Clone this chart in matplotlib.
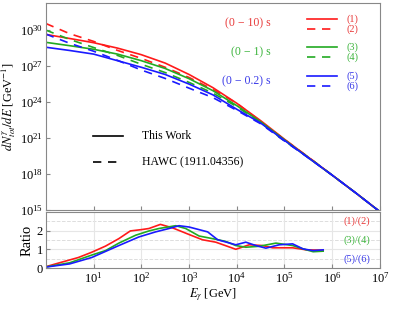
import numpy as np
import matplotlib
matplotlib.use("Agg")
import matplotlib.pyplot as plt

plt.rcParams['font.family'] = ['Liberation Serif', 'DejaVu Serif']
plt.rcParams['mathtext.fontset'] = 'stix'

# spectra: log10(E/GeV) grid and log10(dN/dE) values
logE = [0, 0.5, 1, 1.5, 2, 2.5, 3, 3.5, 4, 4.5, 5, 5.5, 6, 6.5, 7]
spec1 = [29.64, 29.3, 28.95, 28.5, 27.95, 27.25, 26.3, 25.2, 23.9, 22.45, 20.9, 19.4, 17.9, 16.4, 14.85]
spec2 = [30.55, 29.7, 29.06, 28.31, 27.64, 26.9, 26.05, 25.05, 23.9, 22.37, 20.87, 19.41, 17.9, 16.4, 14.85]
spec3 = [28.98, 28.7, 28.4, 28.0, 27.45, 26.8, 25.95, 24.95, 23.7, 22.35, 20.85, 19.35, 17.9, 16.4, 14.85]
spec4 = [30.0, 29.22, 28.55, 27.89, 27.15, 26.46, 25.64, 24.75, 23.62, 22.28, 20.75, 19.4, 17.9, 16.4, 14.85]
spec5 = [28.57, 28.3, 28.0, 27.45, 26.9, 26.3, 25.5, 24.6, 23.4, 22.25, 20.8, 19.35, 17.9, 16.4, 14.85]
spec6 = [29.67, 28.9, 28.24, 27.48, 26.67, 25.97, 25.16, 24.37, 23.31, 22.19, 20.75, 19.35, 17.9, 16.4, 14.85]

# ratios
rE12 = [0, 0.26, 0.68, 0.96, 1.25, 1.53, 1.77, 2.0, 2.16, 2.4, 2.65, 3.0, 3.28, 3.56, 3.98, 4.26, 4.54, 4.75, 5.17, 5.46, 5.81]
r12 = [0.07, 0.26, 0.56, 0.84, 1.17, 1.57, 1.98, 2.05, 2.11, 2.33, 2.15, 1.79, 1.51, 1.38, 1.0, 1.24, 1.2, 1.08, 1.08, 0.97, 0.95]
rE34 = [0, 0.5, 0.96, 1.25, 1.53, 1.88, 2.16, 2.37, 2.58, 2.72, 2.93, 3.21, 3.49, 3.77, 3.98, 4.19, 4.47, 4.82, 5.17, 5.39, 5.6, 5.81]
r34 = [0.06, 0.28, 0.69, 0.93, 1.33, 1.75, 1.98, 2.11, 2.2, 2.26, 2.11, 1.71, 1.57, 1.42, 1.2, 1.11, 1.16, 1.33, 1.2, 1.02, 0.87, 0.9]
rE56 = [0, 0.5, 0.96, 1.53, 1.95, 2.3, 2.58, 2.79, 3.0, 3.39, 3.6, 3.98, 4.19, 4.4, 4.61, 4.89, 5.17, 5.39, 5.6, 5.81]
r56 = [0.05, 0.22, 0.56, 1.2, 1.66, 1.93, 2.11, 2.26, 2.19, 1.93, 1.51, 1.24, 1.38, 1.2, 1.06, 1.24, 1.29, 1.02, 0.93, 0.97]

RED, GREEN, BLUE = '#ff1a1a', '#22aa22', '#1a1aff'
TRED, TGREEN, TBLUE = '#e83a3a', '#3cb43c', '#3a3ae8'
FRAME = '#888888'

fig = plt.figure(figsize=(4.13, 3.12), dpi=100)
ax = fig.add_axes([0.111, 0.327, 0.809, 0.663])
axr = fig.add_axes([0.111, 0.141, 0.809, 0.180])

E = 10 ** np.array(logE, dtype=float)
for s, c, ls in [(spec1, RED, '-'), (spec2, RED, '--'), (spec3, GREEN, '-'),
                 (spec4, GREEN, '--'), (spec5, BLUE, '-'), (spec6, BLUE, '--')]:
    ax.plot(E, 10 ** np.array(s, dtype=float), color=c, ls=ls, lw=1.2,
            dashes=(5, 4) if ls == '--' else (None, None))

ax.set_xscale('log')
ax.set_yscale('log')
ax.set_xlim(1, 1e7)
ax.set_ylim(1e15, 10 ** 32.25)
ax.set_yticks([1e15, 1e18, 1e21, 1e24, 1e27, 1e30])
ax.set_xticks([10 ** k for k in range(1, 8)])
ax.set_xticklabels([])
ax.minorticks_off()
ax.set_ylabel(r'$dN^{\gamma}_{tot}/dE$ [GeV$^{-1}$]', fontsize=9, labelpad=1)

# legend block, top right
for ytxt, ysol, ydash, lbl, c, tc, n in [(0.903, 0.923, 0.874, '(0 − 10) s', RED, TRED, (1, 2)),
                                         (0.763, 0.787, 0.739, '(0 − 1) s', GREEN, TGREEN, (3, 4)),
                                         (0.623, 0.647, 0.599, '(0 − 0.2) s', BLUE, TBLUE, (5, 6))]:
    ax.text(0.672, ytxt, lbl, transform=ax.transAxes, color=tc,
            fontsize=8.5, ha='right', va='center')
    ax.plot([0.782, 0.872], [ysol, ysol], transform=ax.transAxes, color=c, lw=1.2)
    ax.plot([0.782, 0.872], [ydash, ydash], transform=ax.transAxes, color=c, lw=1.2,
            ls='--', dashes=(5, 4))
    ax.text(0.9, ysol, '(%d)' % n[0], transform=ax.transAxes, color=tc, fontsize=7.5, va='center')
    ax.text(0.9, ydash, '(%d)' % n[1], transform=ax.transAxes, color=tc, fontsize=7.5, va='center')

ax.plot([0.14, 0.23], [0.357, 0.357], transform=ax.transAxes, color='k', lw=1.2)
ax.plot([0.14, 0.23], [0.232, 0.232], transform=ax.transAxes, color='k', lw=1.2, ls='--', dashes=(5, 4))
ax.text(0.287, 0.357, 'This Work', transform=ax.transAxes, fontsize=8.5, va='center')
ax.text(0.287, 0.232, 'HAWC (1911.04356)', transform=ax.transAxes, fontsize=8.5, va='center')

# ratio panel
axr.plot(10 ** np.array(rE12), r12, color=RED, lw=1.2)
axr.plot(10 ** np.array(rE34), r34, color=GREEN, lw=1.2)
axr.plot(10 ** np.array(rE56), r56, color=BLUE, lw=1.2)
axr.set_xscale('log')
axr.set_xlim(1, 1e7)
axr.set_ylim(0, 3)
axr.set_yticks([0, 1, 2])
axr.set_xticks([10 ** k for k in range(1, 8)])
axr.minorticks_off()
for yv in [0.5, 1.5, 2.5]:
    axr.axhline(yv, color='#dddddd', lw=0.7, ls='--', zorder=0)
for yv in [1, 2]:
    axr.axhline(yv, color='#e6e6e6', lw=0.8, zorder=0)
for k in range(1, 7):
    axr.axvline(10 ** k, color='#e6e6e6', lw=0.8, zorder=0)
axr.set_ylabel('Ratio', fontsize=10.5, labelpad=2)
axr.set_xlabel(r'$E_{\gamma}$ [GeV]', fontsize=9, labelpad=1)
axr.text(0.97, 0.83, '(1)/(2)', transform=axr.transAxes, color=TRED, fontsize=7.5, ha='right', va='center')
axr.text(0.97, 0.5, '(3)/(4)', transform=axr.transAxes, color=TGREEN, fontsize=7.5, ha='right', va='center')
axr.text(0.97, 0.16, '(5)/(6)', transform=axr.transAxes, color=TBLUE, fontsize=7.5, ha='right', va='center')

for a in (ax, axr):
    for sp in a.spines.values():
        sp.set_color(FRAME)
    a.tick_params(direction='in', color=FRAME, labelsize=9, length=3, pad=2)

fig.savefig('out.png', dpi=100)
